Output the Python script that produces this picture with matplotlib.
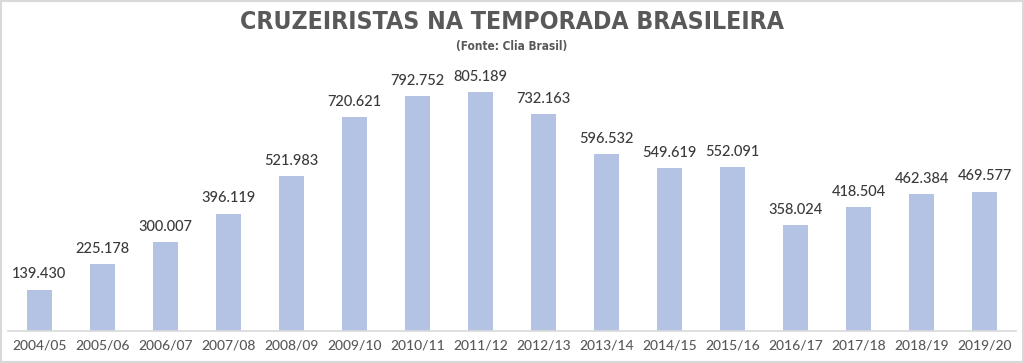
import matplotlib
matplotlib.use("Agg")
import matplotlib.pyplot as plt
from matplotlib.patches import Rectangle

seasons = ["2004/05", "2005/06", "2006/07", "2007/08", "2008/09", "2009/10", "2010/11",
           "2011/12", "2012/13", "2013/14", "2014/15", "2015/16", "2016/17", "2017/18",
           "2018/19", "2019/20"]
cruzeiristas = [139430, 225178, 300007, 396119, 521983, 720621, 792752, 805189, 732163,
                596532, 549619, 552091, 358024, 418504, 462384, 469577]
value_labels = ["139.430", "225.178", "300.007", "396.119", "521.983", "720.621", "792.752",
                "805.189", "732.163", "596.532", "549.619", "552.091", "358.024", "418.504",
                "462.384", "469.577"]
title = "CRUZEIRISTAS NA TEMPORADA BRASILEIRA"
subtitle = "(Fonte: Clia Brasil)"

fig = plt.figure(figsize=(10.24, 3.63), dpi=100)
fig.patch.set_facecolor("white")
fig.add_artist(Rectangle((0.001, 0.002), 0.998, 0.996, transform=fig.transFigure,
                         fill=False, edgecolor="#d9d9d9", linewidth=1.5))

ax = fig.add_axes([0.0078, 0.088, 0.9844, 0.719])
x = list(range(len(seasons)))
ax.bar(x, cruzeiristas, width=0.4, color="#b4c2e3")
ax.set_xlim(-0.5, len(seasons) - 0.5)
ax.set_ylim(0, 880000)
for xi, v, lab in zip(x, cruzeiristas, value_labels):
    ax.annotate(lab, (xi, v), xytext=(0, 6), textcoords="offset points",
                ha="center", va="bottom", fontsize=10.5, fontweight="medium",
                color="#3a3a3a", family=["Lato", "DejaVu Sans"])
ax.set_xticks(x)
ax.set_xticklabels(seasons, fontsize=10, fontweight="medium", color="#595959",
                   family=["Lato", "DejaVu Sans"])
ax.tick_params(axis="x", length=0, pad=6)
ax.set_yticks([])
for s in ["top", "left", "right"]:
    ax.spines[s].set_visible(False)
ax.spines["bottom"].set_color("#d9d9d9")
ax.spines["bottom"].set_linewidth(1.2)
ax.set_facecolor("none")

fig.text(0.5, 0.94, title, ha="center", va="center", fontsize=17.8, fontweight="bold",
         fontstretch="condensed", color="#595959", family=["DejaVu Sans"])
fig.text(0.5, 0.872, subtitle, ha="center", va="center", fontsize=8.5, fontweight="bold",
         fontstretch="condensed", color="#595959", family=["DejaVu Sans"])

fig.savefig("out.png", dpi=100)
